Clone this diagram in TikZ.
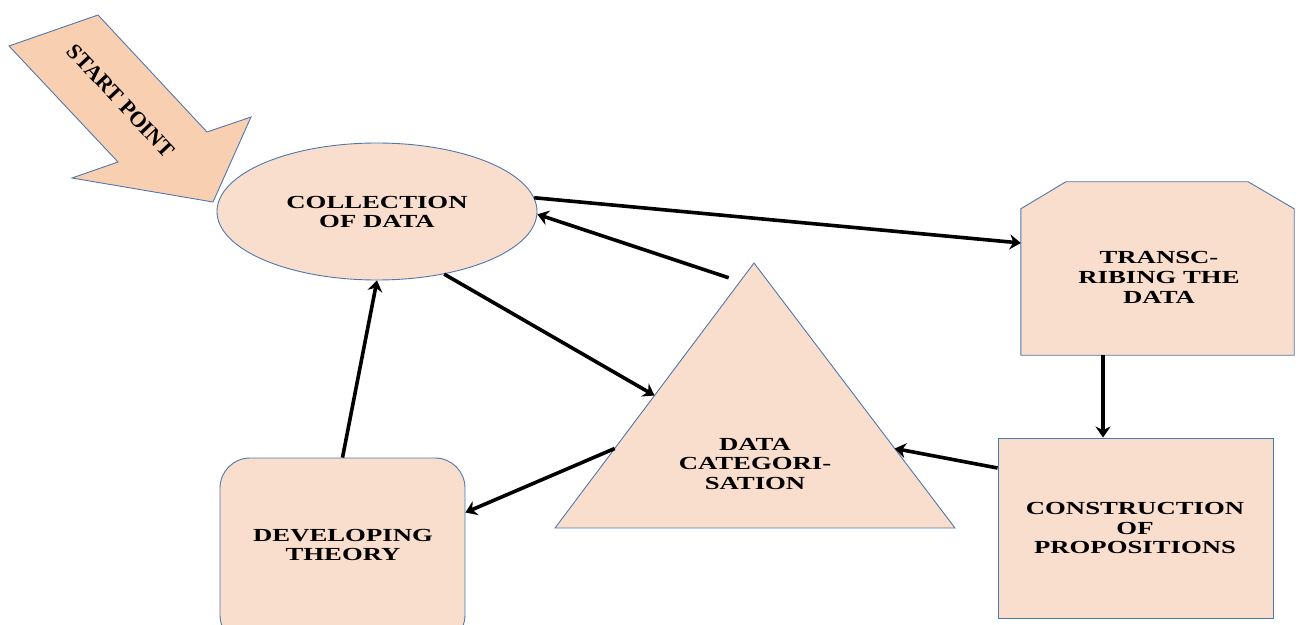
\documentclass[tikz,border=0pt]{standalone}
\usepackage{fontspec}
\usetikzlibrary{arrows.meta,calc,shapes.geometric}
\newfontfamily\lblfont[FakeStretch=1.45]{Liberation Serif}
\newfontfamily\startfont{Liberation Serif}
\definecolor{peach}{RGB}{249,221,205}
\definecolor{peachdark}{RGB}{248,207,177}
\definecolor{edgeblue}{RGB}{80,120,170}
\begin{document}
\begin{tikzpicture}[x=1bp,y=-1bp,
  shapebox/.style={fill=peach,draw=edgeblue,line width=0.9bp},
  lbl/.style={font=\lblfont\bfseries\fontsize{18.5}{20}\selectfont,align=center,text=black,inner sep=0},
  flow/.style={line width=3.6bp,-{Stealth[length=11bp,width=15bp]}},
]
\useasboundingbox (0,0) rectangle (1300,625);

% start arrow
\draw[fill=peachdark,draw=edgeblue,line width=0.9bp]
  (9,46) -- (98,15) -- (207,132) -- (251,117) -- (213,202) -- (72,178) -- (118,162) -- cycle;
\node[rotate=-46.8,font=\startfont\bfseries\fontsize{22}{24}\selectfont,inner sep=0] (st) at (121,101) {START POINT};

% collection of data
\node[ellipse,shapebox,minimum width=320bp,minimum height=137bp,inner sep=0] (ell) at (377,211.5) {};
\node[lbl] (ellt) at (377,212) {COLLECTION\\OF DATA};

% transcribing box with cut top corners
\node[rectangle,minimum width=273bp,minimum height=173bp,inner sep=0] (tr) at (1157.5,268.5) {};
\draw[shapebox] (tr.south west) -- ([yshift=-27bp]tr.north west) -- ([xshift=45bp]tr.north west)
  -- ([xshift=-46bp]tr.north east) -- ([yshift=-27bp]tr.north east) -- (tr.south east) -- cycle;
\node[lbl] (trt) at (1159,277) {TRANSC-\\RIBING THE\\DATA};

% construction of propositions
\node[rectangle,shapebox,minimum width=275bp,minimum height=180bp,inner sep=0] (co) at (1135.5,528) {};
\node[lbl] (cot) at (1135,528) {CONSTRUCTION\\OF\\PROPOSITIONS};

% developing theory
\node[rectangle,rounded corners=30bp,shapebox,minimum width=245bp,minimum height=187bp,inner sep=0] (dev) at (342.5,551.5) {};
\node[lbl] (devt) at (343,545) {DEVELOPING\\THEORY};

% data categorisation triangle
\coordinate (tA) at (754,263);
\coordinate (tL) at (555,528);
\coordinate (tR) at (955,528);
\draw[shapebox] (tA) -- (tL) -- (tR) -- cycle;
\node[lbl] (tt) at (755,464) {DATA\\CATEGORI-\\SATION};

% points on the triangle sides
\coordinate (tq) at ($(tA)!0.07!(tL)$);
\coordinate (tl5) at ($(tA)!0.5!(tL)$);
\coordinate (tl7) at ($(tA)!0.7!(tL)$);
\coordinate (tr7) at ($(tA)!0.7!(tR)$);
\coordinate (vx) at (1103,0);

% connectors
\draw[flow] (ell.5) -- ([yshift=25.5bp]tr.west);
\draw[flow,shorten <=12bp] (tq) -- (ell.-1);
\draw[flow] (ell.-43) -- (tl5);
\draw[flow] (tr.south -| vx) -- (co.north -| vx);
\draw[flow] ([yshift=60bp]co.west) -- (tr7);
\draw[flow] (tl7) -- ([yshift=39bp]dev.east);
\draw[flow] (dev.north) -- (ell.south);
\end{tikzpicture}
\end{document}
